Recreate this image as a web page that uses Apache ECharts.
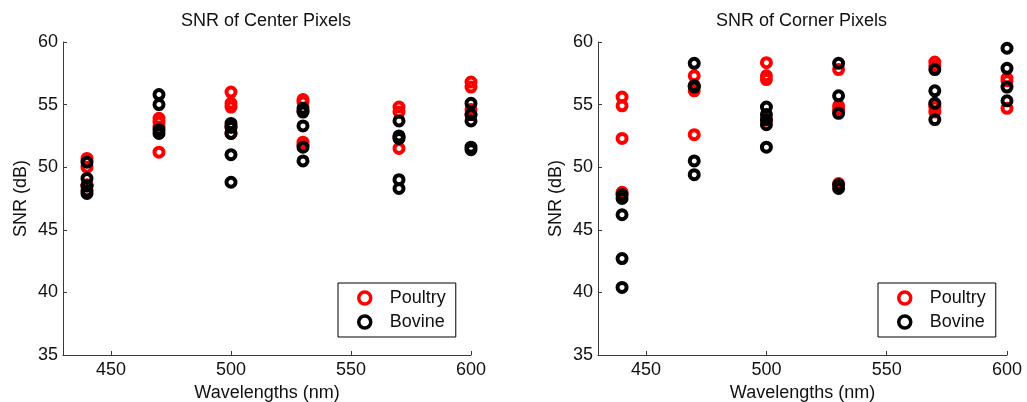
<!DOCTYPE html>
<html>
<head>
<meta charset="utf-8">
<script src="https://cdn.jsdelivr.net/npm/echarts@6/dist/echarts.min.js"></script>
<style>
  html, body { margin: 0; padding: 0; background: #fff; }
  #chart { width: 1027px; height: 402px; }
</style>
</head>
<body>
<div id="chart"></div>
<script>
// Wavelengths measured (nm)
const wavelengths = [440, 470, 500, 530, 570, 600];
const xTicks = [450, 500, 550, 600];

// SNR (dB) of center pixels, one list of samples per wavelength
const centerPoultry = [
  [50.7, 50.0, 48.6, 48.5],
  [53.9, 53.6, 53.2, 51.2],
  [56.0, 55.1, 54.8, 53.2, 52.7],
  [55.4, 55.2, 54.5, 52.0, 51.8],
  [54.8, 54.4, 52.4, 51.5],
  [56.8, 56.4, 54.6, 54.2]
];
const centerBovine = [
  [50.4, 49.1, 48.5, 48.1, 47.9],
  [55.8, 55.0, 53.0, 52.7],
  [53.5, 53.2, 52.7, 51.0, 48.8],
  [54.7, 54.4, 53.3, 51.6, 50.5],
  [53.7, 52.5, 52.3, 49.0, 48.3],
  [55.1, 54.2, 53.7, 51.6, 51.4]
];

// SNR (dB) of corner pixels
const cornerPoultry = [
  [55.6, 54.9, 52.3, 48.0, 47.9],
  [57.3, 56.5, 56.1, 52.6],
  [58.35, 57.3, 57.0, 53.75],
  [57.8, 54.9, 54.6, 48.7],
  [58.4, 58.1, 55.0, 54.8, 54.4],
  [57.1, 56.9, 54.7]
];
const cornerBovine = [
  [47.8, 47.5, 46.2, 42.7, 40.4],
  [58.3, 56.5, 56.4, 50.5, 49.4],
  [54.8, 54.2, 53.8, 53.4, 51.6],
  [58.3, 55.7, 54.3, 48.6, 48.3],
  [57.8, 56.1, 55.1, 53.8],
  [59.5, 57.9, 56.4, 55.3]
];

const FONT = '"Liberation Sans", Arial, sans-serif';
const FS = 18;
const AXIS_COLOR = '#3a3a3a';
const TEXT_COLOR = '#111';

function toPairs(groups) {
  const out = [];
  groups.forEach((vals, i) => vals.forEach(v => out.push([wavelengths[i], v])));
  return out;
}

function ring(color) {
  return {
    symbol: 'circle',
    symbolSize: 9,
    itemStyle: { color: 'rgba(0,0,0,0)', borderColor: color, borderWidth: 4, opacity: 1 }
  };
}

function xAxis(gridIndex) {
  return {
    type: 'value', gridIndex, min: 430, max: 600,
    name: 'Wavelengths (nm)', nameLocation: 'middle', nameGap: 22,
    nameTextStyle: { fontFamily: FONT, fontSize: FS, color: TEXT_COLOR },
    axisLine: { show: true, lineStyle: { color: AXIS_COLOR, width: 1 } },
    axisTick: { show: true, inside: true, length: 4, customValues: xTicks, lineStyle: { color: AXIS_COLOR } },
    axisLabel: { customValues: xTicks, margin: 6, fontFamily: FONT, fontSize: FS, color: TEXT_COLOR },
    splitLine: { show: false }
  };
}

function yAxis(gridIndex) {
  return {
    type: 'value', gridIndex, min: 35, max: 60, interval: 5,
    name: 'SNR (dB)', nameLocation: 'middle', nameGap: 33,
    nameTextStyle: { fontFamily: FONT, fontSize: FS, color: TEXT_COLOR },
    axisLine: { show: true, lineStyle: { color: AXIS_COLOR, width: 1 } },
    axisTick: { show: true, inside: true, length: 4, lineStyle: { color: AXIS_COLOR } },
    axisLabel: { margin: 5, fontFamily: FONT, fontSize: FS, color: TEXT_COLOR },
    splitLine: { show: false }
  };
}

function legend(left) {
  return {
    left, top: 283,
    orient: 'vertical',
    data: ['Poultry', 'Bovine'],
    backgroundColor: '#fff',
    borderColor: '#000', borderWidth: 1, borderRadius: 0,
    padding: [6, 10, 6, 19],
    itemGap: 6,
    itemWidth: 12, itemHeight: 12,
    itemStyle: { borderWidth: 3.5 },
    textStyle: { fontFamily: FONT, fontSize: FS, color: TEXT_COLOR, padding: [0, 0, 0, 14] }
  };
}

const titleStyle = { fontFamily: FONT, fontSize: FS, fontWeight: 'normal', color: TEXT_COLOR };

const chart = echarts.init(document.getElementById('chart'), null, { renderer: 'canvas' });

chart.setOption({
  animation: false,
  backgroundColor: '#fff',
  title: [
    { text: 'SNR of Center Pixels', left: 181, top: 12, padding: 0, textStyle: titleStyle },
    { text: 'SNR of Corner Pixels', left: 716, top: 12, padding: 0, textStyle: titleStyle }
  ],
  legend: [legend(338), legend(878)],
  grid: [
    { left: 63, top: 42, width: 408, height: 313, outerBoundsMode: 'none', containLabel: false },
    { left: 598, top: 42, width: 409, height: 313, outerBoundsMode: 'none', containLabel: false }
  ],
  xAxis: [xAxis(0), xAxis(1)],
  yAxis: [yAxis(0), yAxis(1)],
  series: [
    Object.assign({ name: 'Poultry', type: 'scatter', xAxisIndex: 0, yAxisIndex: 0, data: toPairs(centerPoultry) }, ring('#ff0000')),
    Object.assign({ name: 'Bovine', type: 'scatter', xAxisIndex: 0, yAxisIndex: 0, data: toPairs(centerBovine) }, ring('#000000')),
    Object.assign({ name: 'Poultry', type: 'scatter', xAxisIndex: 1, yAxisIndex: 1, data: toPairs(cornerPoultry) }, ring('#ff0000')),
    Object.assign({ name: 'Bovine', type: 'scatter', xAxisIndex: 1, yAxisIndex: 1, data: toPairs(cornerBovine) }, ring('#000000'))
  ]
});
</script>
</body>
</html>
